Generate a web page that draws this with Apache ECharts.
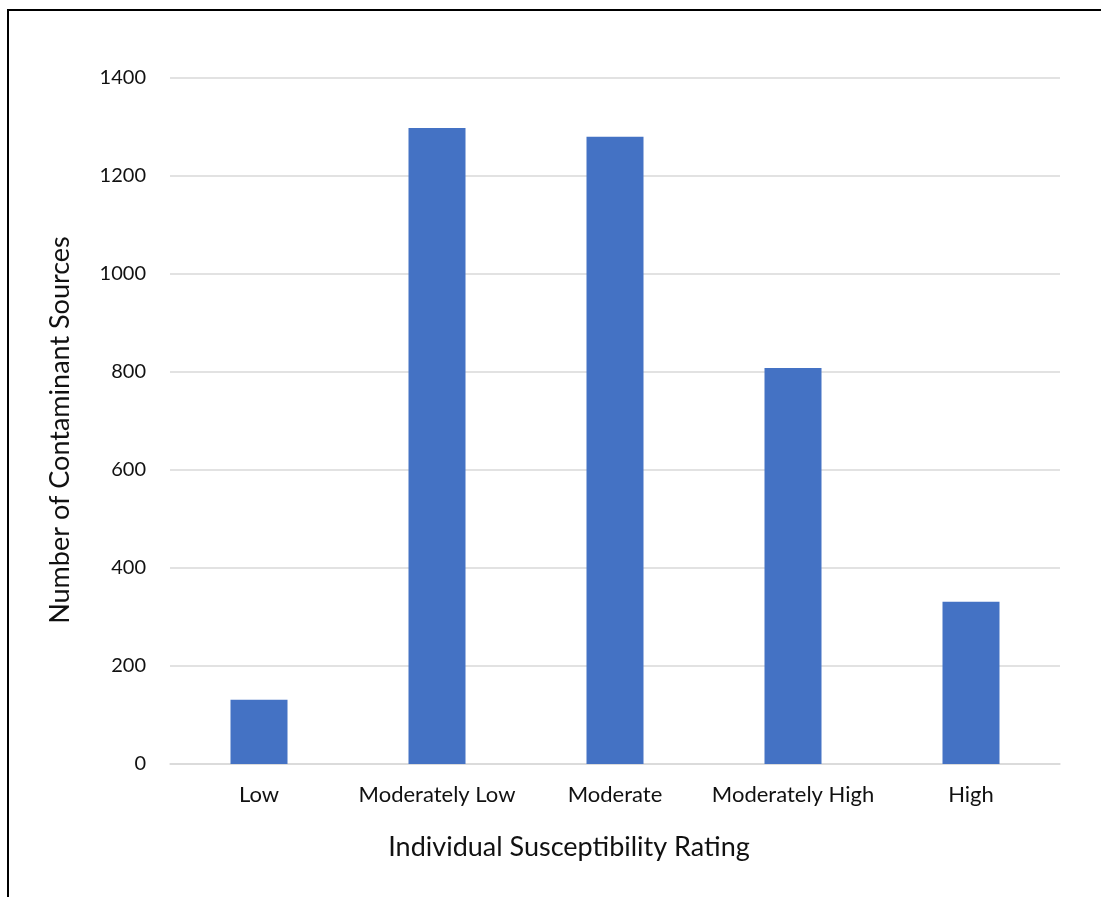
<!DOCTYPE html>
<html><head><meta charset="utf-8">
<script src="https://cdn.jsdelivr.net/npm/echarts@6/dist/echarts.min.js"></script>
<style>html,body{margin:0;padding:0;background:#fff;}#c{width:1101px;height:897px;}</style>
</head><body><div id="c"></div>
<script>
const categories = ['Low', 'Moderately Low', 'Moderate', 'Moderately High', 'High'];
const values = [131, 1298, 1280, 808, 331];
const yTicks = [0, 200, 400, 600, 800, 1000, 1200, 1400];
const xTitle = 'Individual Susceptibility Rating';
const yTitle = 'Number of Contaminant Sources';

const FONT = 'Lato';
const chart = echarts.init(document.getElementById('c'));
chart.setOption({
  animation: false,
  backgroundColor: '#fff',
  grid: { left: 170, right: 41, top: 78, bottom: 133 },
  xAxis: {
    type: 'category', data: categories,
    axisLine: { show: true, lineStyle: { color: '#D9D9D9', width: 1.5 } },
    axisTick: { show: false },
    axisLabel: { color: '#111', fontFamily: FONT, fontSize: 22, margin: 20, interval: 0 }
  },
  yAxis: {
    type: 'value', min: yTicks[0], max: yTicks[yTicks.length - 1], interval: 200,
    axisLine: { show: false }, axisTick: { show: false },
    splitLine: { lineStyle: { color: '#D9D9D9', width: 1.5 } },
    axisLabel: { color: '#111', fontFamily: FONT, fontSize: 20, margin: 24, formatter: v => String(v) }
  },
  series: [{
    type: 'bar', data: values, barWidth: 57,
    itemStyle: { color: '#4472C4' }
  }],
  graphic: [
    { type: 'rect', shape: { x: 8, y: 10, width: 1200, height: 1000 }, style: { fill: null, stroke: '#000', lineWidth: 2 }, z: 100 },
    { type: 'text', x: 569, y: 847, style: { text: xTitle, fontFamily: FONT, fontSize: 27, fill: '#111', textAlign: 'center', textVerticalAlign: 'middle' } },
    { type: 'text', x: 60, y: 430, rotation: Math.PI / 2, style: { text: yTitle, fontFamily: FONT, fontSize: 27, fill: '#111', textAlign: 'center', textVerticalAlign: 'middle' } }
  ]
});
</script></body></html>
